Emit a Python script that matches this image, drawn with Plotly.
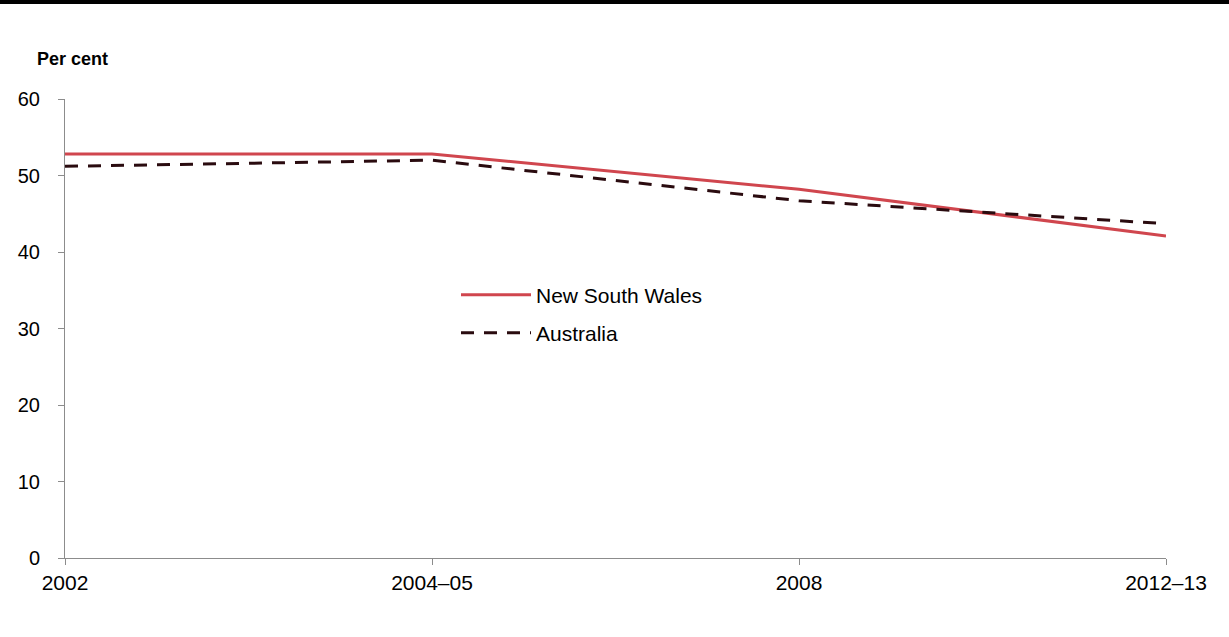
import plotly.graph_objects as go

categories = ["2002", "2004–05", "2008", "2012–13"]
nsw = [52.8, 52.8, 48.2, 42.1]
australia = [51.2, 52.0, 46.7, 43.7]
y_ticks = [0, 10, 20, 30, 40, 50, 60]

L, R, T, B = 65, 63, 99, 79
W, H = 1229, 637
pw, ph = W - L - R, H - T - B

FONT = "Liberation Sans, Arial, sans-serif"

fig = go.Figure()
fig.add_trace(go.Scatter(x=categories, y=nsw, mode="lines", name="New South Wales",
                         line=dict(color="#d0464e", width=3), legend="legend"))
fig.add_trace(go.Scatter(x=categories, y=australia, mode="lines", name="Australia",
                         line=dict(color="#2a0b0f", width=3, dash="13px,10px"),
                         legend="legend2"))

leg_common = dict(xanchor="left", yanchor="middle", bgcolor="rgba(0,0,0,0)",
                  itemwidth=70, font=dict(size=21, family=FONT, color="#000"))

fig.update_layout(
    width=W, height=H,
    margin=dict(l=L, r=R, t=T, b=B),
    plot_bgcolor="white", paper_bgcolor="white",
    font=dict(family=FONT, size=20, color="#000"),
    showlegend=True,
    legend=dict(x=(456 - 65) / pw, y=(558 - 295) / ph, **leg_common),
    legend2=dict(x=(456 - 65) / pw, y=(558 - 333) / ph, **leg_common),
    xaxis=dict(type="category", range=[0, 3], showgrid=False, showline=True,
               linecolor="#8c8c8c", linewidth=1, ticks="outside", ticklen=6,
               tickcolor="#8c8c8c", zeroline=False, tickfont=dict(size=21)),
    yaxis=dict(range=[0, 60], tickvals=y_ticks, showgrid=False, showline=True,
               linecolor="#8c8c8c", linewidth=1, ticks="outside", ticklen=6,
               tickcolor="#8c8c8c", zeroline=False, tickfont=dict(size=20),
               ticklabelstandoff=14),
    annotations=[dict(text="<b>Per cent</b>", xref="paper", yref="paper",
                      x=(35 - 65) / pw, y=(558 - 59) / ph, xanchor="left",
                      yanchor="middle", showarrow=False, font=dict(size=18))],
    shapes=[dict(type="line", xref="paper", yref="paper",
                 x0=-L / pw, x1=(W - L) / pw, y0=(558 - 2) / ph, y1=(558 - 2) / ph,
                 line=dict(color="black", width=4))],
)

fig.write_html("out.html", config={"displayModeBar": False},
               post_script="document.body.style.margin='0px';")
